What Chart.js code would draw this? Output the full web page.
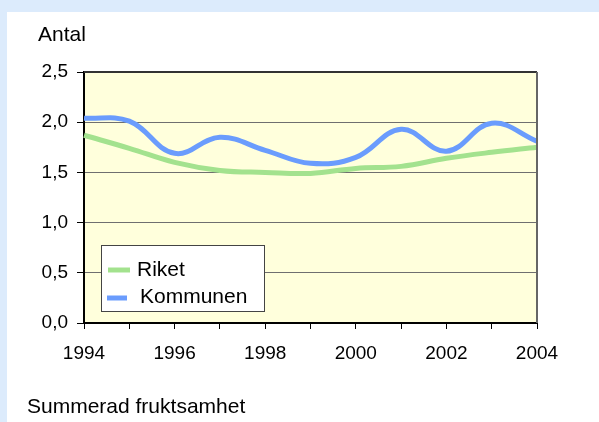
<!DOCTYPE html>
<html>
<head>
<meta charset="utf-8">
<script src="https://cdn.jsdelivr.net/npm/chart.js@4"></script>
<style>
    body { margin: 0; background: #dcebfc; }
    #panel { position: absolute; left: 7px; top: 12px; width: 592px; height: 410px; background: #fff; }
    #wrap { position: absolute; left: 0; top: 0; width: 599px; height: 422px; }
</style>
</head>
<body>
<div id="panel"></div>
<div id="wrap"><canvas id="grafico"></canvas></div>
<script>
const years = ['1994', '1995', '1996', '1997', '1998', '1999', '2000', '2001', '2002', '2003', '2004'];
const riket = [1.87, 1.74, 1.60, 1.52, 1.50, 1.49, 1.54, 1.56, 1.64, 1.70, 1.75];
const kommunen = [2.04, 2.01, 1.69, 1.85, 1.72, 1.59, 1.65, 1.93, 1.71, 1.99, 1.81];
const yTicks = [0, 0.5, 1.0, 1.5, 2.0, 2.5];

const seriesNames = ['Riket', 'Kommunen'];
const seriesColors = ['#a3e28e', '#6a9cfd'];

const FONT = "'Liberation Sans', Arial, sans-serif";

function formatTick(value) {
    return value.toFixed(1).replace('.', ',');
}

const frame = {
    id: 'frame',
    beforeDraw(chart) {
        const { ctx, chartArea: a } = chart;
        ctx.save();
        ctx.fillStyle = '#ffffdc';
        ctx.fillRect(a.left, a.top, a.right - a.left, a.bottom - a.top);
        ctx.restore();
    },
    afterDraw(chart) {
        const { ctx, chartArea: a } = chart;
        ctx.save();
        // top and right border
        ctx.strokeStyle = '#333';
        ctx.lineWidth = 2;
        ctx.beginPath();
        ctx.moveTo(a.left, a.top);
        ctx.lineTo(a.right, a.top);
        ctx.stroke();
        ctx.strokeStyle = '#666';
        ctx.beginPath();
        ctx.moveTo(a.right, a.top);
        ctx.lineTo(a.right, a.bottom);
        ctx.stroke();

        // texts
        ctx.fillStyle = '#000';
        ctx.font = '21px ' + FONT;
        ctx.textBaseline = 'alphabetic';
        ctx.fillText('Antal', 38, 41);
        ctx.fillText('Summerad fruktsamhet', 27, 413);

        // legend
        ctx.fillStyle = '#fff';
        ctx.fillRect(101, 245, 164, 67);
        ctx.strokeStyle = '#444';
        ctx.lineWidth = 1;
        ctx.strokeRect(101.5, 245.5, 163, 66);
        const rows = [
            { y: 270, x1: 108, x2: 130, tx: 137, base: 276 },
            { y: 298, x1: 107, x2: 127, tx: 140, base: 303 }
        ];
        chart.data.datasets.forEach((ds, i) => {
            const r = rows[i];
            ctx.strokeStyle = ds.borderColor;
            ctx.lineWidth = 5;
            ctx.beginPath();
            ctx.moveTo(r.x1, r.y);
            ctx.lineTo(r.x2, r.y);
            ctx.stroke();
            ctx.fillStyle = '#000';
            ctx.fillText(ds.label, r.tx, r.base);
        });
        ctx.restore();
    }
};

new Chart(document.getElementById('grafico'), {
    type: 'line',
    data: {
        labels: years,
        datasets: [
            { label: seriesNames[0], data: riket, borderColor: seriesColors[0] },
            { label: seriesNames[1], data: kommunen, borderColor: seriesColors[1] }
        ]
    },
    options: {
        responsive: true,
        maintainAspectRatio: false,
        animation: false,
        events: [],
        elements: {
            line: { borderWidth: 5, tension: 0.4 },
            point: { radius: 0 }
        },
        layout: { padding: { left: 0, top: 72, right: 62, bottom: 49 } },
        plugins: {
            legend: { display: false },
            tooltip: { enabled: false }
        },
        scales: {
            x: {
                offset: false,
                afterFit: scale => { scale.height = 50; },
                grid: {
                    drawOnChartArea: false,
                    drawTicks: true,
                    tickLength: 6,
                    tickColor: '#000',
                    tickWidth: 1
                },
                border: { color: '#000', width: 2 },
                ticks: {
                    color: '#000',
                    font: { family: FONT, size: 19 },
                    padding: 13,
                    maxRotation: 0,
                    autoSkip: false,
                    callback: function (value, index) {
                        return index % 2 === 0 ? years[index] : '';
                    }
                }
            },
            y: {
                min: yTicks[0],
                max: yTicks[yTicks.length - 1],
                afterFit: scale => { scale.width = 84; },
                afterBuildTicks: scale => {
                    scale.ticks = yTicks.map(v => ({ value: v }));
                },
                grid: {
                    color: '#6f6f6f',
                    lineWidth: 1,
                    tickLength: 7,
                    tickColor: '#000'
                },
                border: { color: '#000', width: 2 },
                ticks: {
                    color: '#000',
                    font: { family: FONT, size: 19 },
                    padding: 9,
                    callback: value => formatTick(value)
                }
            }
        }
    },
    plugins: [frame]
});
</script>
</body>
</html>
